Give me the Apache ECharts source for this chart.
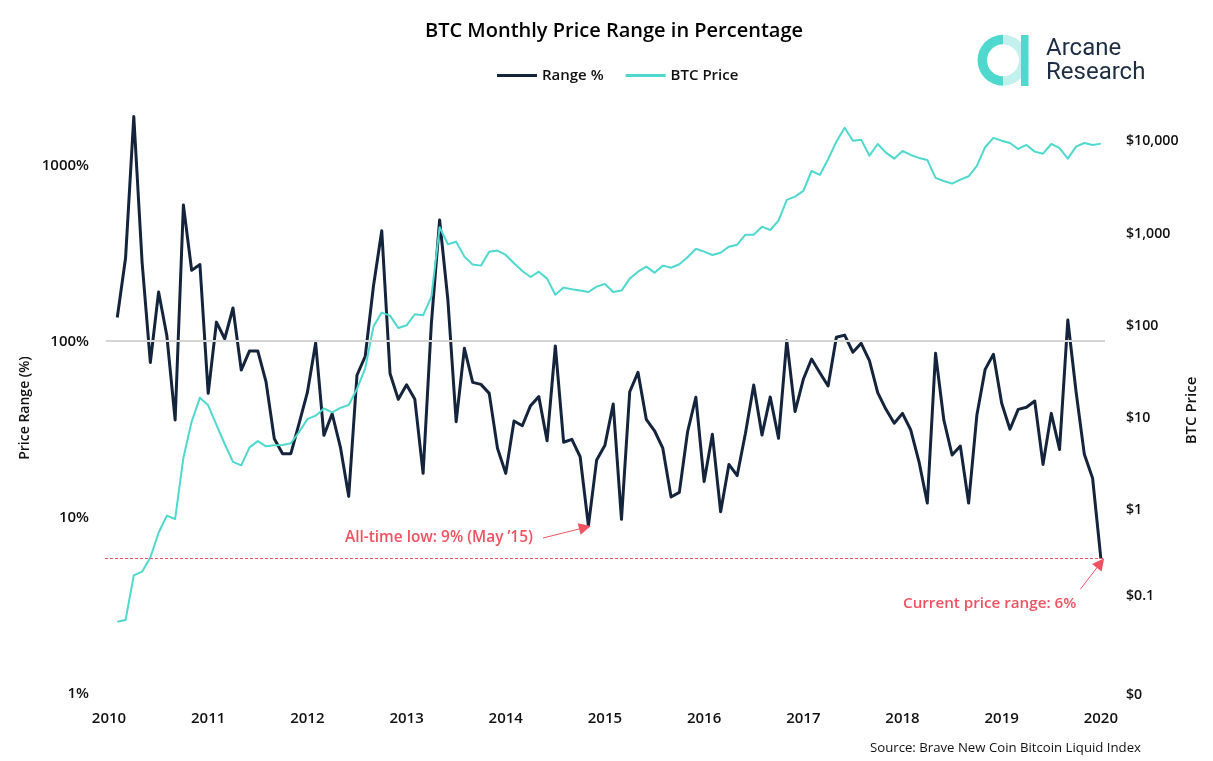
<!DOCTYPE html>
<html>
<head>
<meta charset="utf-8">
<title>BTC Monthly Price Range in Percentage</title>
<script src="https://cdn.jsdelivr.net/npm/echarts@6/dist/echarts.min.js"></script>
<style>
    html, body { margin: 0; padding: 0; background: #fff; }
    #chart { width: 1213px; height: 761px; }
</style>
</head>
<body>
<div id="chart"></div>
<script>
const FONT = '"Open Sans", "Noto Sans", sans-serif';
const NAVY = '#14243c';
const TEAL = '#4ed8ce';
const RED = '#ef5261';

const firstYear = 2010;

// monthly, first point is Feb 2010, last is Jan 2020
const rangePct = [
    136, 295, 1887, 282, 75.5, 190, 107, 35.6, 593, 252, 272, 50.4,
    128, 103, 154, 68.4, 87.8, 87.8, 58.5, 27.8, 22.9, 22.9, 34, 51,
    97.5, 29.1, 38.6, 24.9, 13.1, 63.9, 81.9, 206, 423, 65.4, 46.6, 56.4,
    46.6, 17.7, 125.6, 487, 171, 34.8, 90.9, 58.2, 56.7, 50.4, 24.6, 17.7,
    35.1, 33, 42.9, 48.3, 27.1, 93.7, 26.6, 27.6, 22, 8.9, 21.1, 25.6,
    43.9, 9.7, 51.5, 66.4, 35.9, 30.9, 24.6, 13, 13.8, 30.5, 47.9, 15.9,
    29.5, 10.7, 19.9, 17.2, 29.9, 56.2, 29.2, 48.1, 28, 100.4, 39.7, 60.6,
    79, 66, 55.5, 105, 108, 86.3, 97, 77.3, 50.9, 40.9, 34.1, 38.8,
    31.2, 20.6, 12, 85.1, 35.6, 22.5, 25.3, 12, 38, 69, 84, 44.3,
    31.5, 40.9, 42, 45.6, 19.9, 38.8, 24.2, 131.6, 51.5, 22.7, 16.6, 5.8
];

const btcPrice = [
    0.0592, 0.0618, 0.189, 0.207, 0.295, 0.547, 0.841, 0.773, 3.56, 8.8, 16, 13.2,
    8.09, 5.03, 3.22, 2.95, 4.62, 5.4, 4.74, 4.86, 4.91, 5.12, 6.79, 9.35,
    10.2, 12.2, 11.1, 12.4, 13.3, 19.9, 33.3, 94.9, 134, 124, 91, 97.5,
    128.5, 125, 198, 1130, 738, 787, 542, 444, 433, 614, 630, 565,
    459, 379, 326, 372, 313, 209, 250, 240, 232, 224, 256, 274,
    224, 232, 313, 372, 422, 363, 433, 411, 448, 533, 661, 614,
    565, 598, 695, 731, 938, 938, 1146, 1055, 1331, 2234, 2427, 2798,
    4603, 4169, 6166, 9572, 13580, 9817, 10070, 6745, 9040, 7278, 6266, 7586,
    6871, 6383, 6067, 3873, 3589, 3357, 3707, 4036, 5224, 8337, 10520, 9817,
    9268, 7980, 8831, 7464, 7096, 9040, 8128, 6266, 8453, 9268, 8831, 9120
];

const leftLabels = { 0: '{pct|1%}', 1: '{pct|10%}', 2: '{pct|100%}', 3: '{pct|1000%}' };
const rightLabels = { '-2': '$0', '-1': '{low|$0.1}', 0: '$1', 1: '$10', 2: '$100', 3: '$1,000', 4: '$10,000' };

function decadeLabel(table, value) {
    const exp = Math.log10(value);
    const near = Math.round(exp);
    if (Math.abs(exp - near) > 0.001) return '';
    return table[near] || '';
}

const chart = echarts.init(document.getElementById('chart'));

chart.setOption({
    backgroundColor: '#fff',
    animation: false,
    textStyle: { fontFamily: FONT },
    title: {
        text: 'BTC Monthly Price Range in Percentage',
        left: 609,
        top: 16,
        textAlign: 'center',
        textStyle: { fontFamily: FONT, fontSize: 20, fontWeight: 600, color: '#000' }
    },
    legend: {
        top: 63,
        left: 492,
        icon: 'rect',
        itemWidth: 40,
        itemHeight: 3,
        itemGap: 22,
        textStyle: { fontFamily: FONT, fontSize: 15, fontWeight: 600, color: '#111' },
        data: ['Range %', 'BTC Price']
    },
    grid: { left: 109, right: 108, top: 85, bottom: 68 },
    xAxis: {
        // months since Jan 2010
        type: 'value',
        min: 0,
        max: 120.5,
        interval: 12,
        axisLine: { show: false },
        axisTick: { show: false },
        splitLine: { show: false },
        axisLabel: {
            formatter: v => (v % 12 === 0 ? String(firstYear + v / 12) : ''),
            margin: 18,
            fontFamily: FONT,
            fontSize: 15,
            fontWeight: 600,
            color: '#111',
            hideOverlap: false
        }
    },
    yAxis: [
        {
            type: 'log',
            logBase: 10,
            min: 1,
            max: 2848,
            name: 'Price Range (%)',
            nameLocation: 'middle',
            nameGap: 77,
            nameMoveOverlap: false,
            nameTextStyle: { fontFamily: FONT, fontSize: 14, fontWeight: 600, color: '#111', padding: [0, 38, 0, 0] },
            axisLine: { show: false },
            axisTick: { show: false },
            splitLine: { show: false },
            minorTick: { show: false },
            axisLabel: {
                margin: 20,
                fontFamily: FONT,
                fontSize: 15,
                fontWeight: 600,
                color: '#111',
                formatter: v => decadeLabel(leftLabels, v),
                rich: { pct: { fontFamily: FONT, fontSize: 15, fontWeight: 600, color: '#111', padding: [2, 0, 0, 0] } }
            }
        },
        {
            type: 'log',
            logBase: 10,
            min: 0.01,
            max: 39445,
            position: 'right',
            name: 'BTC Price',
            nameLocation: 'middle',
            nameRotate: 90,
            nameGap: 79,
            nameMoveOverlap: false,
            nameTextStyle: { fontFamily: FONT, fontSize: 15, fontWeight: 600, color: '#111', padding: [0, 43, 0, 0] },
            axisLine: { show: false },
            axisTick: { show: false },
            splitLine: { show: false },
            axisLabel: {
                margin: 21,
                padding: [3, 0, 0, 0],
                fontFamily: FONT,
                fontSize: 14.2,
                fontWeight: 600,
                color: '#111',
                formatter: v => decadeLabel(rightLabels, v),
                rich: { low: { fontFamily: FONT, fontSize: 14.2, fontWeight: 600, color: '#111', padding: [0, 0, 12, 0] } }
            }
        }
    ],
    series: [
        {
            name: 'Range %',
            type: 'line',
            yAxisIndex: 0,
            showSymbol: false,
            symbol: 'none',
            lineStyle: { color: NAVY, width: 3, join: 'round' },
            itemStyle: { color: NAVY },
            data: rangePct.map((v, i) => [i + 1, v]),
            markLine: {
                silent: true,
                symbol: 'none',
                label: { show: false },
                data: [
                    [
                        { x: 106, yAxis: 100, lineStyle: { color: '#d4d4d4', width: 2, type: 'solid' } },
                        { x: 1105, yAxis: 100 }
                    ],
                    [
                        { x: 105, yAxis: 5.8, lineStyle: { color: RED, width: 1, type: [3, 2] } },
                        { x: 1105, yAxis: 5.8 }
                    ],
                    // annotation arrows
                    [
                        { x: 543, y: 538, symbol: 'none', lineStyle: { color: RED, width: 1, type: 'solid' } },
                        { x: 585, y: 527.5, symbol: 'triangle', symbolSize: 12 }
                    ],
                    [
                        { x: 1080.5, y: 589, symbol: 'none', lineStyle: { color: RED, width: 1, type: 'solid' } },
                        { x: 1100.5, y: 563, symbol: 'triangle', symbolSize: 12 }
                    ]
                ]
            }
        },
        {
            name: 'BTC Price',
            type: 'line',
            yAxisIndex: 1,
            showSymbol: false,
            symbol: 'none',
            lineStyle: { color: TEAL, width: 2, join: 'round' },
            itemStyle: { color: TEAL },
            data: btcPrice.map((v, i) => [i + 1, v])
        }
    ],
    graphic: [
        { type: 'text', left: 345, top: 530, style: { text: 'All-time low: 9% (May \u201915)', fill: RED, font: '600 15.4px ' + FONT } },
        { type: 'text', left: 903, top: 596, style: { text: 'Current price range: 6%', fill: RED, font: '600 15.2px ' + FONT } },
        { type: 'text', left: 870, top: 742, style: { text: 'Source: Brave New Coin Bitcoin Liquid Index', fill: '#111', font: '400 13.2px ' + FONT } },
        // Arcane Research logo
        { type: 'sector', shape: { cx: 1003, cy: 60.3, r: 25.5, r0: 16, startAngle: Math.PI / 2, endAngle: Math.PI * 1.5 }, style: { fill: TEAL } },
        { type: 'sector', shape: { cx: 1003, cy: 60.3, r: 25.5, r0: 16, startAngle: -Math.PI / 2, endAngle: Math.PI / 2 }, style: { fill: '#c2f0ec' } },
        { type: 'rect', shape: { x: 1021, y: 35, width: 7.5, height: 51 }, style: { fill: TEAL } },
        { type: 'text', left: 1046, top: 37, style: { text: 'Arcane', fill: '#1d2d44', font: '400 24px Roboto, ' + FONT } },
        { type: 'text', left: 1046, top: 61, style: { text: 'Research', fill: '#1d2d44', font: '400 24px Roboto, ' + FONT } }
    ]
});

window.addEventListener('resize', function() {
    chart.resize();
});
</script>
</body>
</html>
